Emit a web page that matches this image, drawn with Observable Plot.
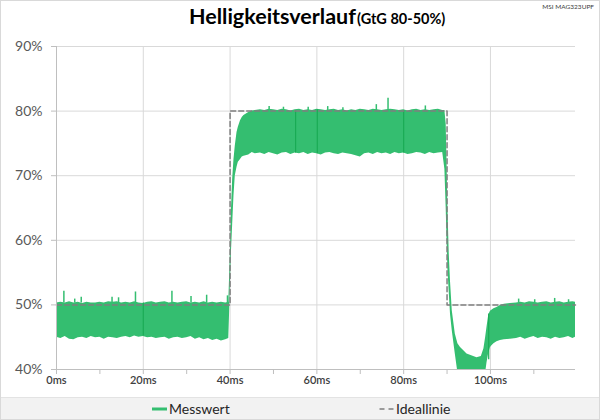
<!DOCTYPE html>
<html>
<head>
<meta charset="utf-8">
<script src="https://cdn.jsdelivr.net/npm/d3@7"></script>
<script src="https://cdn.jsdelivr.net/npm/@observablehq/plot@0.6"></script>
<style>
  html, body { margin: 0; padding: 0; background: #fff; }
  #wrap { position: relative; width: 600px; height: 420px; background: #fff; font-family: Lato, "Open Sans", sans-serif; overflow: hidden; }
  #frame { position: absolute; left: 0; top: 0; width: 598px; height: 418px; border: 1px solid #d9d9d9; pointer-events: none; z-index: 5; }
  #title { position: absolute; left: 189px; top: 3px; white-space: nowrap; color: #000; font-weight: 700; }
  #title .main { font-size: 21.5px; }
  #title .sub { font-size: 14.5px; margin-left: 1px; }
  #model { position: absolute; right: 6px; top: 3px; font-size: 6.5px; color: #404040; }
  #chart { position: absolute; left: 0; top: 30px; }
  #legend { position: absolute; left: 0; top: 397px; width: 600px; height: 23px; background: #f2f2f2; border-top: 1px solid #e3e3e3; font-size: 14px; color: #262626; }
  .lg { position: absolute; top: 1px; display: flex; align-items: center; height: 19px; }
  .lg svg { margin-right: 2px; }
</style>
</head>
<body>
<div id="wrap">
  <div id="title"><span class="main">Helligkeitsverlauf</span><span class="sub">(GtG 80-50%)</span></div>
  <div id="model">MSI MAG323UPF</div>
  <div id="chart"></div>
  <div id="legend">
    <div class="lg" style="left:152px"><svg width="15" height="6"><line x1="0" x2="15" y1="3" y2="3" stroke="#34be70" stroke-width="3"/></svg>Messwert</div>
    <div class="lg" style="left:379px"><svg width="15" height="6"><line x1="0.5" x2="15" y1="3" y2="3" stroke="#7f7f7f" stroke-width="1.5" stroke-dasharray="5,4"/></svg>Ideallinie</div>
  </div>
  <div id="frame"></div>
</div>
<script>
// ---- data ----
const baseT  = [0,1,2,3,4,5,6,7,8,9,10,11,12,13,14,15,16,17,18,19,20,21,22,23,24,25,26,27,28,29,30,31,32,33,34,35,36,37,38,39,39.7];
const baseHi = [50.3,50.4,50.3,50.5,50.3,50.4,50.2,50.4,50.3,50.3, 50.4,50.3,50.5,50.4,50.5,50.3,50.4,50.3,50.5,50.3, 50.2,50.4,50.5,50.3,50.4,50.5,50.3,50.4,50.3,50.4, 50.5,50.3,50.4,50.3,50.5,50.3,50.4,50.3,50.4,50.3, 50.4];
const baseLo = [45.0,44.8,45.1,44.7,44.6,44.9,45.0,44.8,45.1,44.9, 45.0,44.7,45.0,44.9,44.8,45.0,45.1,44.9,45.2,45.0, 45.1,44.9,45.0,44.8,44.9,45.0,44.7,44.9,45.0,44.8, 44.9,45.1,44.7,44.9,44.6,44.8,44.5,44.7,44.4,44.6, 44.8];

const riseT  = [39.9,40.1,40.3,40.6,40.9,41.2,41.6,41.9,42.4,42.8,43.2,44.3,45.1,45.8];
const riseHi = [54.5,58.5,64.4,69.5,72.5,74.6,76.7,77.5,78.5,79.0,79.3,79.8,80.0,80.1];
const riseLo = [49.0,54.0,58.0,62.5,66.9,70.0,71.3,72.1,72.5,72.9,73.0,73.2,73.6,73.4];

const plateauT  = [47,48,49,50,51,52,53,54,55,56,57,58,59,60,61,62,63,64,65,66,67,68,69,70,71,72,73,74,75,76,77,78,79,80,81,82,83,84,85,86,87,88,89];
const plateauHi = [80.2,80.1,80.3,80.2,80.1,80.3,80.2,80.0,80.2,80.3, 80.1,80.2,80.1,80.3,80.2,80.1,80.2,80.3,80.1,80.2, 80.0,80.2,80.1,80.3,80.2,80.1,80.3,80.2,80.1,80.2, 80.3,80.2,80.1,80.2,80.0,80.2,80.3,80.1,80.2,80.1, 80.2,80.3,80.1];
const plateauLo = [73.5,73.3,73.6,73.4,73.2,73.5,73.6,73.3,73.5,73.4, 73.6,73.3,73.5,73.4,73.2,73.5,73.6,73.4,73.3,73.5, 73.4,73.3,73.1,72.9,73.4,73.5,73.3,73.6,73.4,73.5, 73.3,73.6,73.4,73.5,73.3,73.4,73.6,73.5,73.3,73.6, 73.4,73.5,73.6];

const fallT  = [89.5,89.8,90.0,90.2,90.5,90.8,91.2,91.9,92.5,93.1,94.6,96.9,97.9,98.5,98.9,99.2,99.6,100.0,100.4,100.8,101.5,102.3,103.2,104.6];
const fallHi = [80.1,78.0,72.0,65.0,58.0,53.6,49.1,45.5,44.0,43.4,42.4,41.8,42.0,43.2,45.0,46.5,48.4,49.0,49.2,49.4,49.6,49.9,50.1,50.2];
const fallLo = [71.0,65.0,60.0,55.5,52.0,48.5,46.0,42.4,39.5,39.5,39.5,39.5,39.5,39.5,39.5,41.0,42.5,43.4,43.7,44.0,44.3,44.5,44.6,44.7];

const recovT  = [106,107,108,109,110,111,112,113,114,115,116,117,118,119,119.6];
const recovHi = [50.3,50.4,50.3,50.5,50.4,50.3,50.4,50.5,50.3,50.4,50.5,50.3,50.4,50.5,50.4];
const recovLo = [44.8,45.0,44.7,44.9,45.1,44.8,45.0,44.9,44.7,45.0,44.8,44.9,45.1,44.8,45.0];

const spikeT    = [1.7,4.2,5.7,12.8,14.3,18.2,26.6,31.0,34.6,39.4, 49.0,52.3,58.0,62.5,66.0,73.7,76.4,85.0, 106.5,110.2,114.8,118.0];
const spikeBase = [50.3,50.3,50.3,50.3,50.3,50.3,50.3,50.3,50.3,50.3, 80.1,80.1,80.1,80.1,80.1,80.1,80.1,80.1, 50.3,50.3,50.3,50.3];
const spikeTop  = [52.1,50.9,51.2,51.2,51.1,52.0,52.1,51.3,51.5,51.4, 80.7,80.6,80.6,80.7,80.5,81.0,82.0,80.8, 50.9,50.8,51.0,50.8];

const streakT  = [20.0,55.1,60.1,80.0,99.6];
const streakLo = [45.2,73.5,73.4,73.5,41.5];
const streakHi = [50.3,80.1,80.2,80.1,48.6];

const idealT = [0,40,40,90,90,119.6];
const idealV = [50,50,80,80,50,50];

const yTicks = [40,50,60,70,80,90];
const xLabelTicks = [0,20,40,60,80,100];
const xMinorTicks = [0,10,20,30,40,50,60,70,80,90,100,110];

// ---- build tables ----
const T  = [...baseT, ...riseT, ...plateauT, ...fallT, ...recovT];
const HI = [...baseHi, ...riseHi, ...plateauHi, ...fallHi, ...recovHi];
const LO = [...baseLo, ...riseLo, ...plateauLo, ...fallLo, ...recovLo];
const band = T.map((t, i) => ({t, hi: HI[i], lo: LO[i]}));
const spikes = spikeT.map((t, i) => ({t, b: spikeBase[i], v: spikeTop[i]}));
const streaks = streakT.map((t, i) => ({t, lo: streakLo[i], hi: streakHi[i]}));
const ideal = idealT.map((t, i) => ({t, v: idealV[i]}));

const green = "#34be70";
const chart = Plot.plot({
  width: 600,
  height: 367,
  marginLeft: 56,
  marginRight: 25,
  marginTop: 16,
  marginBottom: 28,
  style: {fontFamily: "Lato, 'Open Sans', sans-serif", background: "transparent", overflow: "visible"},
  x: {domain: [0, 119.6]},
  y: {domain: [40, 90]},
  marks: [
    Plot.gridX(xLabelTicks, {stroke: "#d9d9d9", strokeOpacity: 1}),
    Plot.gridY(yTicks.slice(1), {stroke: "#d9d9d9", strokeOpacity: 1}),
    Plot.areaY(band, {x: "t", y1: "lo", y2: "hi", fill: green, clip: true}),
    Plot.ruleX(spikes, {x: "t", y1: "b", y2: "v", stroke: green, strokeWidth: 1.5}),
    Plot.ruleX(streaks, {x: "t", y1: "lo", y2: "hi", stroke: "#1aab55", strokeWidth: 1.2}),
    Plot.line(ideal, {x: "t", y: "v", stroke: "#7f7f7f", strokeWidth: 1.5, strokeDasharray: "5,3"}),
    Plot.ruleX([0], {stroke: "#bfbfbf"}),
    Plot.ruleY([40], {stroke: "#bfbfbf"}),
    Plot.axisY(yTicks, {tickSize: 5, tickPadding: 9, tickFormat: d => d + "%", stroke: "#bfbfbf", fill: "#595959", fontSize: 14, label: null}),
    Plot.axisX(xMinorTicks, {tickSize: 5, tickFormat: () => "", stroke: "#bfbfbf", label: null}),
    Plot.axisX(xLabelTicks, {tickSize: 0, tickPadding: 7, tickFormat: d => d + "ms", fill: "#404040", fontSize: 11, fontWeight: 600, label: null})
  ]
});
document.getElementById("chart").appendChild(chart);
</script>
</body>
</html>
